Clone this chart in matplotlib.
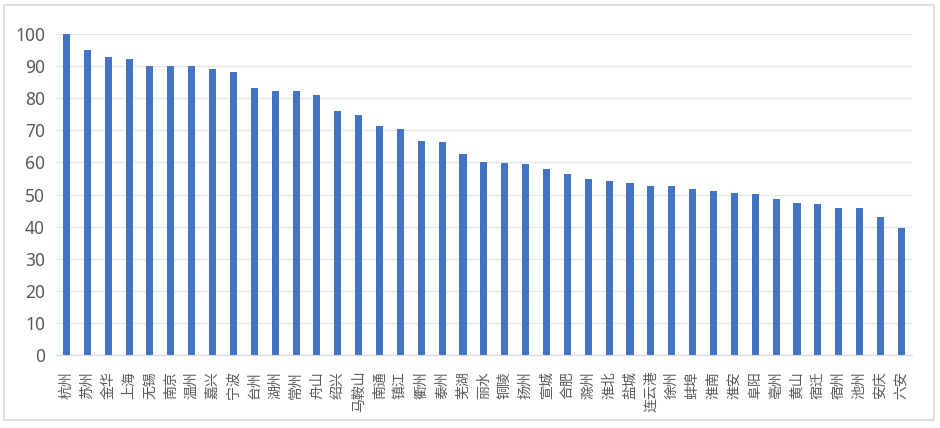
import matplotlib.pyplot as plt
from matplotlib.patches import Rectangle

plt.rcParams['font.family'] = ['Noto Sans CJK SC', 'DejaVu Sans']

# 城市与数值
cities = ['杭州', '苏州', '金华', '上海', '无锡', '南京', '温州', '嘉兴', '宁波', '台州',
          '湖州', '常州', '舟山', '绍兴', '马鞍山', '南通', '镇江', '衢州', '泰州', '芜湖',
          '丽水', '铜陵', '扬州', '宣城', '合肥', '滁州', '淮北', '盐城', '连云港', '徐州',
          '蚌埠', '淮南', '淮安', '阜阳', '亳州', '黄山', '宿迁', '宿州', '池州', '安庆', '六安']
values = [100, 95.0, 92.7, 92.0, 89.8, 89.8, 89.8, 88.9, 87.9, 83.2,
          82.1, 82.1, 80.9, 76.0, 74.8, 71.3, 70.2, 66.6, 66.3, 62.5,
          60.2, 59.8, 59.4, 57.9, 56.3, 54.8, 54.3, 53.6, 52.5, 52.5,
          51.8, 51.0, 50.5, 50.1, 48.7, 47.5, 47.1, 45.7, 45.7, 43.0, 39.5]
yticks = list(range(0, 101, 10))

fig = plt.figure(figsize=(9.4, 4.28), dpi=100)
fig.patches.append(Rectangle((4 / 940, 1 - 420 / 428), 930 / 940, 415 / 428,
                             transform=fig.transFigure, fill=False,
                             edgecolor='#d9d9d9', linewidth=1.2))

ax = fig.add_axes([0.0596, 0.1694, 0.9104, 0.7523])
x = range(len(cities))
ax.bar(x, values, width=0.34, color='#4472C4', zorder=3)

ax.set_xlim(-0.5, len(cities) - 0.5)
ax.set_ylim(0, 100)
ax.set_yticks(yticks)
ax.set_yticklabels([str(v) for v in yticks], family='Noto Sans', fontsize=12.5, color='#595959')
ax.set_xticks(list(x))
ax.set_xticklabels(cities, rotation=90, fontsize=10, color='#595959')
ax.tick_params(axis='y', length=0, pad=8)
ax.tick_params(axis='x', length=0, pad=11)
ax.grid(axis='y', color='#e6e6e6', linewidth=1, zorder=0)
for s in ['top', 'right', 'left']:
    ax.spines[s].set_visible(False)
ax.spines['bottom'].set_color('#d9d9d9')
ax.spines['bottom'].set_zorder(4)

fig.savefig('out.png', dpi=100)
